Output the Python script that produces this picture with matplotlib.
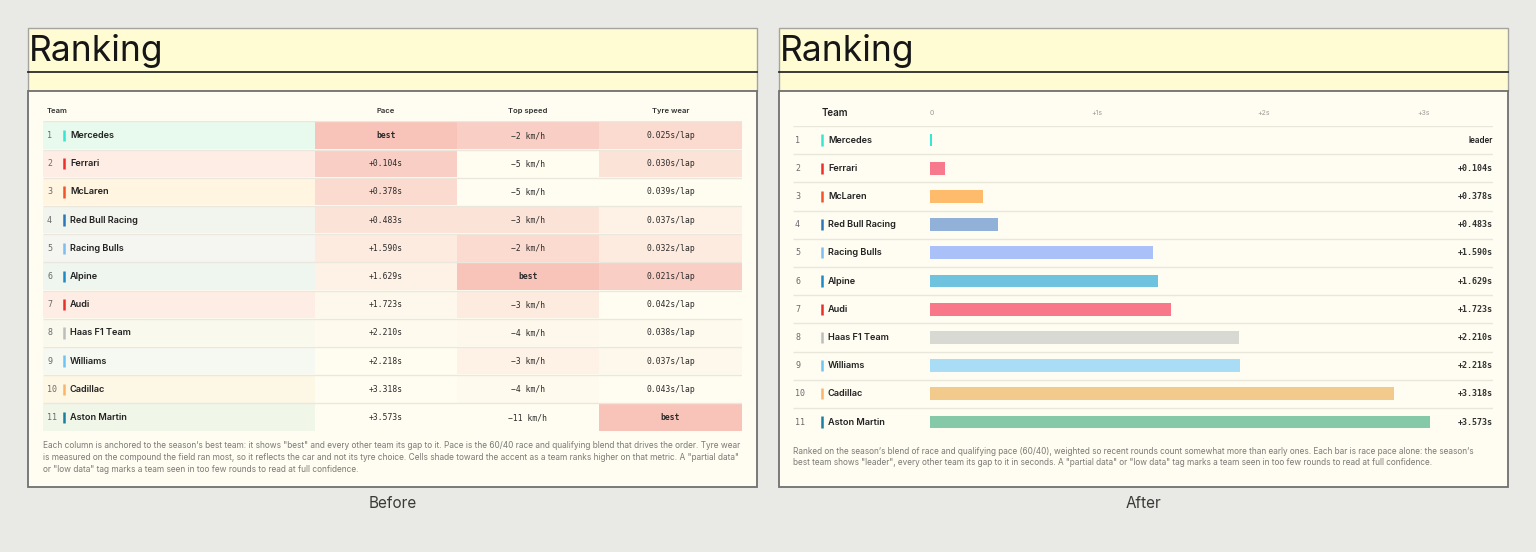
import numpy as np
import matplotlib.pyplot as plt
from matplotlib.patches import Rectangle
from matplotlib.colors import to_rgb


W, H = 1536, 552

# --- data ------------------------------------------------------------------
teams = ["Mercedes", "Ferrari", "McLaren", "Red Bull Racing", "Racing Bulls", "Alpine",
         "Audi", "Haas F1 Team", "Williams", "Cadillac", "Aston Martin"]
pace_gap = [0.0, 0.104, 0.378, 0.483, 1.590, 1.629, 1.723, 2.210, 2.218, 3.318, 3.573]
top_speed_delta = [-2, -5, -5, -3, -2, 0, -3, -4, -3, -4, -11]  # km/h to best, 0 = best
tyre_wear = [0.025, 0.030, 0.039, 0.037, 0.032, 0.021, 0.042, 0.038, 0.037, 0.043, None]  # None = best
team_colors = ["#36e6d0", "#ee2f2a", "#f2532a", "#2a78b8", "#7fbcef", "#1b8ac6",
               "#e8302a", "#bdbdbd", "#6ec4f2", "#f9b56a", "#1a7fa0"]
bar_colors = ["#36e8d2", "#f77a8c", "#fdbb6b", "#92b1d8", "#aac0f8", "#70c3df",
              "#f8788a", "#d9d9d4", "#a8ddf5", "#f2cb8c", "#86c9a8"]
axis_labels = ["0", "+1s", "+2s", "+3s"]

left_note = [
    "Each column is anchored to the season\u2019s best team: it shows \"best\" and every other team its gap to it. "
    "Pace is the 60/40 race and qualifying blend that drives the order. Tyre wear",
    "is measured on the compound the field ran most, so it reflects the car and not its tyre choice. "
    "Cells shade toward the accent as a team ranks higher on that metric. A \"partial data\"",
    "or \"low data\" tag marks a team seen in too few rounds to read at full confidence.",
]
right_note = [
    "Ranked on the season\u2019s blend of race and qualifying pace (60/40), weighted so recent rounds count "
    "somewhat more than early ones. Each bar is race pace alone: the season\u2019s",
    "best team shows \"leader\", every other team its gap to it in seconds. A \"partial data\" or "
    "\"low data\" tag marks a team seen in too few rounds to read at full confidence.",
]

# --- styling ---------------------------------------------------------------
BG = "#e9e9e5"
BAND = "#fffcd3"
CREAM = "#fffdf1"
ACCENT = "#f8c3b9"
SANS = ["Inter", "DejaVu Sans"]
MONO = ["DejaVu Sans Mono"]
plt.rcParams["font.family"] = SANS


def blend(color, t, base=CREAM):
    c, b = np.array(to_rgb(color)), np.array(to_rgb(base))
    return tuple(b + (c - b) * t)


def shade_levels(keys):
    # position of each team when sorted best-first, turned into a shade amount
    order = sorted(range(len(keys)), key=lambda i: keys[i])
    pos = {idx: p for p, idx in enumerate(order)}
    return [max(0.0, 1 - pos[i] / 9) ** 2 for i in range(len(keys))]


def px_axes(fig, x0, y0, x1, y1):
    ax = fig.add_axes([x0 / W, 1 - y1 / H, (x1 - x0) / W, (y1 - y0) / H])
    ax.set_facecolor("none")
    return ax


def draw_frame(bg, x0, x1, caption):
    bg.add_patch(Rectangle((x0, 28), x1 - x0, 63, fc=BAND, ec="#a3a3a0", lw=1))
    bg.plot([x0, x1], [71.5, 71.5], color="#2b2b2b", lw=1.3)
    bg.add_patch(Rectangle((x0, 90.5), x1 - x0, 396.5, fc=CREAM, ec="#707070", lw=1.3))
    bg.text(x0 + 1, 61, "Ranking", fontsize=25.5, color="#161616", va="baseline")
    bg.text((x0 + x1) / 2, 504, caption, fontsize=11, color="#3a3a3a", ha="center", va="center")


fig = plt.figure(figsize=(W / 100, H / 100), dpi=100, facecolor=BG)
bg = fig.add_axes([0, 0, 1, 1])
bg.set_xlim(0, W)
bg.set_ylim(H, 0)
bg.axis("off")

draw_frame(bg, 28, 757, "Before")
draw_frame(bg, 779, 1508, "After")

rows = np.arange(1, len(teams) + 1)

# --- before: shaded table ----------------------------------------------------
cols = [(315, 457), (457, 599), (599, 742)]
pace_txt = ["best" if g == 0 else f"+{g:.3f}s" for g in pace_gap]
speed_txt = ["best" if d == 0 else f"\u2212{abs(d)} km/h" for d in top_speed_delta]
tyre_txt = ["best" if w is None else f"{w:.3f}s/lap" for w in tyre_wear]
metric_txt = [pace_txt, speed_txt, tyre_txt]
metric_shade = [
    shade_levels(pace_gap),
    shade_levels([-d for d in top_speed_delta]),
    shade_levels([-1 if w is None else w for w in tyre_wear]),
]

bg.text(47, 111, "Team", fontsize=5.5, weight="semibold", color="#333", va="center")
for (c0, c1), name in zip(cols, ["Pace", "Top speed", "Tyre wear"]):
    bg.text((c0 + c1) / 2, 111, name, fontsize=5.5, weight="semibold", color="#333",
            ha="center", va="center")

tab = px_axes(fig, 43, 121.4, 742, 431.6)
tab.set_xlim(43, 742)
tab.set_ylim(len(teams) + 0.5, 0.5)
tab.axis("off")
tab.hlines(np.arange(0.5, len(teams) + 0.5), 43, 742, color="#ebe7dc", lw=1)
for i, r in enumerate(rows):
    tab.add_patch(Rectangle((43, r - 0.47), 315 - 43, 0.94, fc=blend(bar_colors[i], 0.12), lw=0))
    for (c0, c1), txt, shade in zip(cols, metric_txt, metric_shade):
        tab.add_patch(Rectangle((c0, r - 0.47), c1 - c0, 0.94, fc=blend(ACCENT, shade[i]), lw=0))
        tab.text((c0 + c1) / 2, r, txt[i], fontsize=5.8, family=MONO, color="#2a2a2a",
                 ha="center", va="center", weight="bold" if txt[i] == "best" else "normal")
    tab.text(47, r, str(r), fontsize=6, family=MONO, color="#6a6a6a", va="center")
    tab.plot([64, 64], [r - 0.2, r + 0.2], color=team_colors[i], lw=1.8, solid_capstyle="butt")
    tab.text(70, r, teams[i], fontsize=6.6, weight="semibold", color="#222", va="center")

for k, line in enumerate(left_note):
    bg.text(43, 446 + k * 11.7, line, fontsize=6.0, color="#7a7a76", va="center")

# --- after: bar ranking --------------------------------------------------------
bg.text(822, 113, "Team", fontsize=7, weight="semibold", color="#222", va="center")

rt = px_axes(fig, 793, 125.9, 1493, 436.1)
rt.set_xlim(793, 1493)
rt.set_ylim(len(teams) + 0.5, 0.5)
rt.axis("off")
rt.hlines(np.arange(0.5, len(teams)), 793, 1493, color="#e9e6da", lw=1)
for i, r in enumerate(rows):
    rt.text(795, r, str(r), fontsize=6, family=MONO, color="#6a6a6a", va="center")
    rt.plot([822, 822], [r - 0.2, r + 0.2], color=team_colors[i], lw=1.8, solid_capstyle="butt")
    rt.text(828, r, teams[i], fontsize=6.6, weight="semibold", color="#222", va="center")
    if pace_gap[i] == 0:
        rt.text(1493, r, "leader", fontsize=5.8, weight="semibold", color="#222",
                ha="right", va="center")
    else:
        rt.text(1493, r, f"+{pace_gap[i]:.3f}s", fontsize=6, family=MONO, weight="bold",
                color="#333", ha="right", va="center")

max_gap = max(pace_gap)
ba = px_axes(fig, 930, 125.9, 1430, 436.1)
ba.set_xlim(0, max_gap)
ba.set_ylim(len(teams) + 0.5, 0.5)
widths = [max(g, max_gap * 0.004) for g in pace_gap]
ba.barh(rows, widths, height=0.46, color=bar_colors, lw=0)
ba.xaxis.tick_top()
ba.set_xticks(np.linspace(0, max_gap, len(axis_labels)))
ba.set_xticklabels(axis_labels, fontsize=5, color="#9a9a96")
ba.tick_params(axis="x", length=0, pad=7)
ba.set_yticks([])
labels = ba.get_xticklabels()
labels[0].set_ha("left")
labels[-1].set_ha("right")
for s in ba.spines.values():
    s.set_visible(False)

for k, line in enumerate(right_note):
    bg.text(793, 451 + k * 11.7, line, fontsize=5.92, color="#7a7a76", va="center")

fig.savefig("out.png", dpi=100, facecolor=BG)
